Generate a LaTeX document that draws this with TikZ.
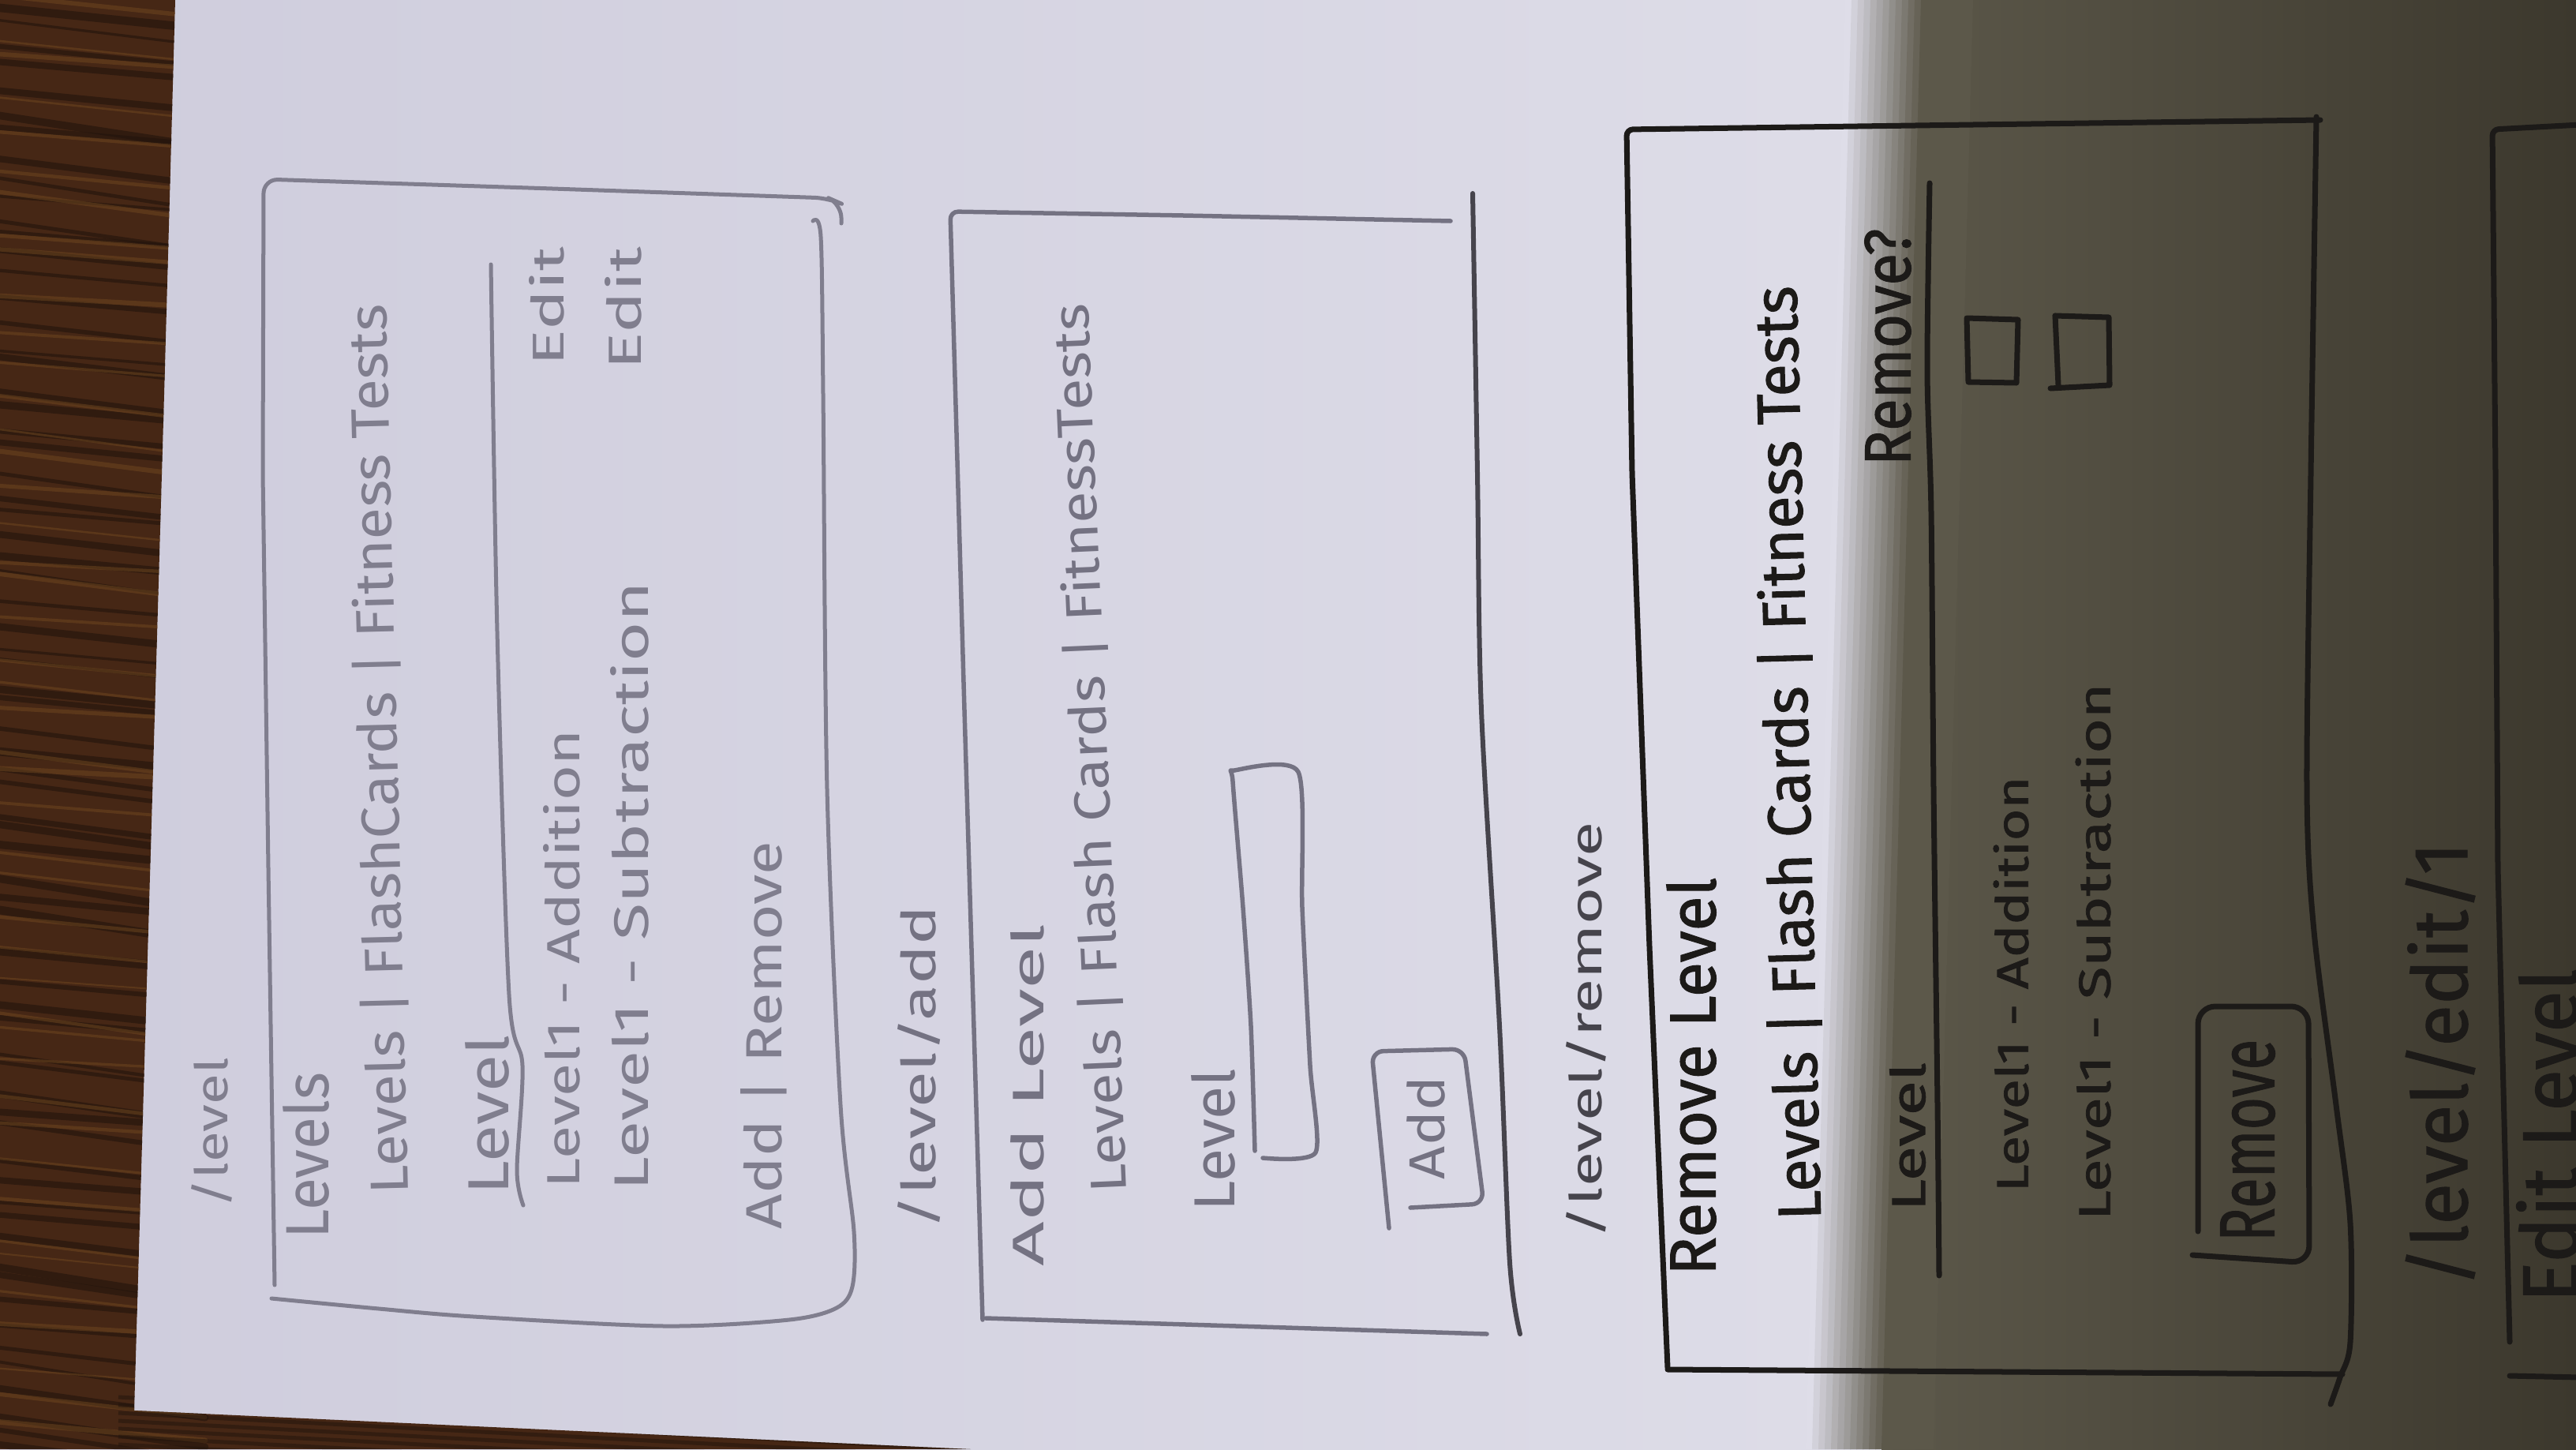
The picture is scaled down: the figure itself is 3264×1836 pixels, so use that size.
\documentclass[tikz,border=0pt]{standalone}
\usepackage{fontspec}
\setmainfont{Fira Sans}
\newfontfamily\handbold{Fira Sans}[FakeBold=1.3]
\usepackage{graphicx}
% hand lettering: text squeezed to a given length and height (cm)
\newcommand\hw[3]{\resizebox{#1cm}{#2cm}{#3}}

\definecolor{woodbase}{RGB}{70,39,21}
\definecolor{wooddark}{RGB}{34,20,12}
\definecolor{woodlight}{RGB}{118,76,34}
\definecolor{paperL}{RGB}{206,204,220}
\definecolor{paperM}{RGB}{216,215,228}
\definecolor{paperR}{RGB}{222,221,232}
\definecolor{shadowL}{RGB}{92,88,74}
\definecolor{shadowR}{RGB}{60,56,45}
\definecolor{pcA}{RGB}{128,126,142}
\definecolor{pcB}{RGB}{116,114,130}
\definecolor{pcD}{RGB}{70,68,76}
\definecolor{pcC}{RGB}{28,26,24}

\tikzset{
  pencilA/.style={draw=pcA, line width=0.05cm, line cap=round, line join=round},
  pencilB/.style={draw=pcB, line width=0.055cm, line cap=round, line join=round},
  pencilD/.style={draw=pcD, line width=0.06cm, line cap=round, line join=round},
  pencilC/.style={draw=pcC, line width=0.07cm, line cap=round, line join=round},
  hand/.style={inner sep=0pt, outer sep=0pt, anchor=west, rotate=90},
  handdark/.style={hand, text=pcC, font=\handbold},
}

\begin{document}
\begin{tikzpicture}[x=0.01cm, y=-0.01cm]
\useasboundingbox (0,0) rectangle (3264,1836);
\clip (0,0) rectangle (3264,1836);

% ---- paper ----
\shade[left color=paperL, middle color=paperM, right color=paperR] (0,0) rectangle (2440,1836);
\shade[left color=shadowL, right color=shadowR] (2384,0) rectangle (3264,1836);
% soft edge of the shadow falling across the sheet
\foreach \i in {0,...,11}{
  \pgfmathtruncatemacro\pp{100-\i*100/12}
  \pgfmathsetmacro\xt{2338+8*\i}
  \fill[paperR!\pp!shadowL] (\xt,0) -- ({\xt+9},0) -- ({\xt+9-50},1836) -- ({\xt-50},1836) -- cycle;
}
\fill[shadowL] (2434,0) -- (2500,0) -- (2450,1836) -- (2384,1836) -- cycle;

% ---- wooden table ----
\begin{scope}
  \clip (0,0) -- (222,0) -- (208,500) -- (170,1787) -- (1230,1836) -- (0,1836) -- cycle;
  \fill[woodbase] (0,0) rectangle (1300,1836);
  \pgfmathsetseed{11}
  \foreach \k in {0,...,70}{
    \pgfmathsetmacro\yy{\k*27+12*rand}
    \pgfmathsetmacro\ww{0.03+0.08*rnd}
    \pgfmathsetmacro\dd{20+25*rnd}
    \draw[wooddark, opacity=0.6, line width=\ww cm, line cap=round] (-20,\yy) -- (260,{\yy+\dd});
  }
  \foreach \k in {0,...,45}{
    \pgfmathsetmacro\yy{\k*41+15*rand}
    \pgfmathsetmacro\ww{0.02+0.05*rnd}
    \pgfmathsetmacro\dd{15+25*rnd}
    \draw[woodlight, opacity=0.45, line width=\ww cm, line cap=round] (-20,\yy) -- (260,{\yy+\dd});
  }
  \foreach \k in {0,...,8}{
    \pgfmathsetmacro\yy{1770+\k*10}
    \draw[wooddark, opacity=0.5, line width=0.05cm] (150,\yy) -- (1300,{\yy+60});
  }
\end{scope}

% ================= /level =================
\draw[pencilA, rounded corners=0.18cm] (1066,283) -- (1066,258) -- (1050,251) -- (700,239) -- (334,227) -- (333,600) -- (340,1100) -- (348,1628);
\draw[pencilA] plot[smooth, tension=0.5] coordinates {(1030,280) (1040,300) (1043,500) (1048,1000) (1065,1400) (1082,1560) (1080,1630) (1060,1657) (1000,1672) (842,1680) (600,1668) (480,1658) (344,1645)};
\draw[pencilA] plot[smooth, tension=0.5] coordinates {(622,335) (630,800) (645,1260) (662,1350) (655,1483) (663,1527)};

\node[hand, text=pcA] (p1path) at (268,1530) {\hw{1.90}{0.46}{/level}};
\node[hand, text=pcA] (p1title) at (388,1569) {\hw{2.10}{0.58}{Levels}};
\node[hand, text=pcA, rotate=1.4] (p1tabs) at (493,1513) {\hw{11.27}{0.55}{Levels | FlashCards | Fitness Tests}};
\node[hand, text=pcA] (p1head) at (617,1513) {\hw{2.01}{0.55}{Level}};
\node[hand, text=pcA] (p1add) at (712,1505) {\hw{5.80}{0.46}{Level1 - Addition}};
\node[hand, text=pcA] (p1sub) at (798,1508) {\hw{7.70}{0.48}{Level1 - Subtraction}};
\node[hand, text=pcA] (p1edit1) at (693,463) {\hw{1.50}{0.44}{Edit}};
\node[hand, text=pcA] (p1edit2) at (790,468) {\hw{1.55}{0.46}{Edit}};
\node[hand, text=pcA] (p1actions) at (968,1557) {\hw{4.91}{0.52}{Add | Remove}};

% ================= /level/add =================
\draw[pencilB, rounded corners=0.1cm] (1838,280) -- (1500,273) -- (1204,268) -- (1222,900) -- (1245,1672);
\draw[pencilB] (1249,1670) -- (1884,1690);
\draw[pencilD] plot[smooth, tension=0.5] coordinates {(1866,245) (1872,600) (1877,900) (1900,1300) (1913,1600) (1926,1690)};
% text field
\draw[pencilB] plot[smooth, tension=0.4] coordinates {(1590,1458) (1585,1300) (1575,1150) (1562,990) (1564,976) (1645,978) (1650,1150) (1660,1350) (1667,1460) (1600,1467)};
% button
\draw[pencilB, rounded corners=0.15cm] (1760,1556) -- (1738,1332) -- (1855,1329) -- (1880,1525) -- (1787,1530);

\node[hand, text=pcB] (p2path) at (1165,1557) {\hw{4.09}{0.48}{/level/add}};
\node[hand, text=pcB] (p2title) at (1302,1604) {\hw{4.33}{0.42}{Add Level}};
\node[hand, text=pcB, rotate=2.5] (p2tabs) at (1405,1511) {\hw{11.26}{0.52}{Levels | Flash Cards | FitnessTests}};
\node[hand, text=pcB] (p2label) at (1537,1534) {\hw{1.80}{0.55}{Level}};
\node[hand, text=pcB] (p2btn) at (1807,1494) {\hw{1.30}{0.48}{Add}};
\node[hand, text=pcD] (p3path) at (2010,1569) {\hw{5.27}{0.45}{/level/remove}};

% ================= /level/remove =================
\draw[pencilC, rounded corners=0.08cm] (2940,152) -- (2500,158) -- (2061,164) -- (2068,600) -- (2090,1200) -- (2113,1733);
\draw[pencilC] (2113,1735) -- (2968,1741);
\draw[pencilC] plot[smooth, tension=0.5] coordinates {(2935,148) (2928,600) (2923,1000) (2932,1180) (2960,1400) (2978,1550) (2978,1700) (2965,1745) (2953,1779)};
\draw[pencilC] plot[smooth, tension=0.5] coordinates {(2445,232) (2442,470) (2447,650) (2450,1000) (2455,1400) (2457,1616)};
% check boxes
\draw[pencilC] (2492,403) -- (2557,405) -- (2555,485) -- (2494,484) -- cycle;
\draw[pencilC] (2604,400) -- (2672,402) -- (2673,488) -- (2598,492);
\draw[pencilC] (2604,400) -- (2608,488);
% button
\draw[pencilC, rounded corners=0.22cm] (2785,1560) -- (2785,1275) -- (2925,1275) -- (2926,1600) -- (2778,1590);

\node[handdark] (p3title) at (2143,1616) {\hw{5.04}{0.62}{Remove Level}};
\node[handdark, rotate=1.5] (p3tabs) at (2280,1546) {\hw{11.83}{0.62}{Levels | Flash Cards | Fitness Tests}};
\node[handdark] (p3head) at (2417,1534) {\hw{1.88}{0.45}{Level}};
\node[handdark] (p3ask) at (2392,590) {\hw{3.00}{0.58}{Remove?}};
\node[handdark] (p3add) at (2548,1510) {\hw{5.26}{0.44}{Level1 - Addition}};
\node[handdark] (p3sub) at (2652,1546) {\hw{6.80}{0.44}{Level1 - Subtraction}};
\node[handdark] (p3btn) at (2848,1573) {\hw{2.56}{0.68}{Remove}};

% ================= /level/edit/1 =================
\node[handdark] (p4path) at (3092,1630) {\hw{5.63}{0.78}{/level/edit/1}};
\draw[pencilC, rounded corners=0.08cm] (3270,158) -- (3158,164) -- (3162,600) -- (3165,1100) -- (3175,1500) -- (3180,1700);
\draw[pencilC] (3180,1743) -- (3270,1745);
\node[handdark] (p4title) at (3228,1650) {\hw{4.23}{0.78}{Edit Level}};
\end{tikzpicture}
\end{document}
